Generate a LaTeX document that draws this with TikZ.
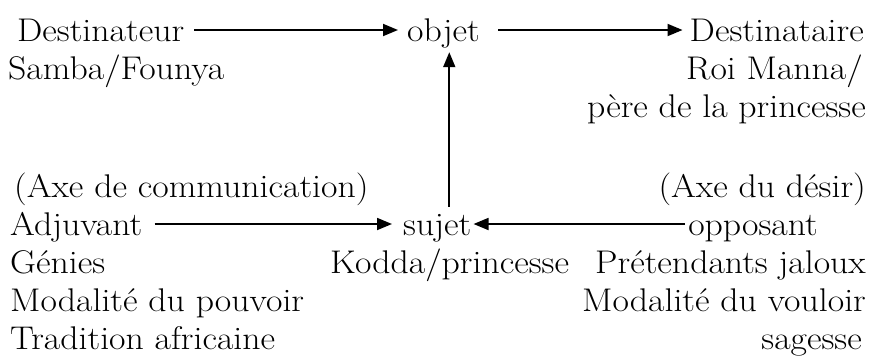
\documentclass[tikz,border=0pt]{standalone}
\usepackage{fontspec}
\setmainfont{Latin Modern Roman}[FakeStretch=1.09]
\usetikzlibrary{arrows.meta}
\tikzset{
  txt/.style={inner sep=0pt, text height=22pt, text depth=0pt, font=\fontsize{32.8}{38}\selectfont},
  lt/.style={txt, anchor=base west},
  rt/.style={txt, anchor=base east},
  arr/.style={line width=1.8pt, -{Triangle[length=15pt,width=12pt]}}
}
\begin{document}
\begin{tikzpicture}[x=1pt,y=-1pt]
\useasboundingbox (0,0) rectangle (874,362);
% row 1
\node[lt] (dest) at (17,41) {Destinateur};
\node[lt] (objet) at (407,41) {objet};
\node[rt] (dtaire) at (864,41) {Destinataire};
% row 2-3
\node[lt] (samba) at (8,79) {Samba/Founya};
\node[rt] (roi) at (863,79) {Roi Manna/};
\node[rt] (pere) at (866,117) {père de la princesse};
% axes
\node[lt] (axecom) at (14,197) {(Axe de communication)};
\node[rt] (axedes) at (866,197) {(Axe du désir)};
% row 5
\node[lt] (adj) at (10,235) {Adjuvant};
\node[lt] (sujet) at (403,235) {sujet};
\node[rt] (opp) at (818,235) {opposant};
% row 6
\node[lt] (genies) at (10,273) {Génies};
\node[lt] (kodda) at (330,273) {Kodda/princesse};
\node[rt] (pret) at (866,273) {Prétendants jaloux};
% row 7-8
\node[lt] (modp) at (10,311) {Modalité du pouvoir};
\node[rt] (modv) at (866,311) {Modalité du vouloir};
\node[lt] (trad) at (10,349) {Tradition africaine};
\node[rt] (sag) at (862,349) {sagesse};
% connectors
\draw[arr] ([xshift=10pt]dest.east) -- ([xshift=-9pt]objet.west);
\draw[arr] ([xshift=18pt]objet.east) -- ([xshift=-7pt]dtaire.west);
\draw[arr] ([xshift=12pt]adj.east) -- ([xshift=-11pt]sujet.west);
\draw[arr] ([xshift=-3pt]opp.west) -- ([xshift=2pt]sujet.east);
\draw[arr] ([xshift=12pt,yshift=6pt]sujet.north) -- ([xshift=12pt,yshift=-11pt]sujet.north |- objet.south);
\end{tikzpicture}
\end{document}
